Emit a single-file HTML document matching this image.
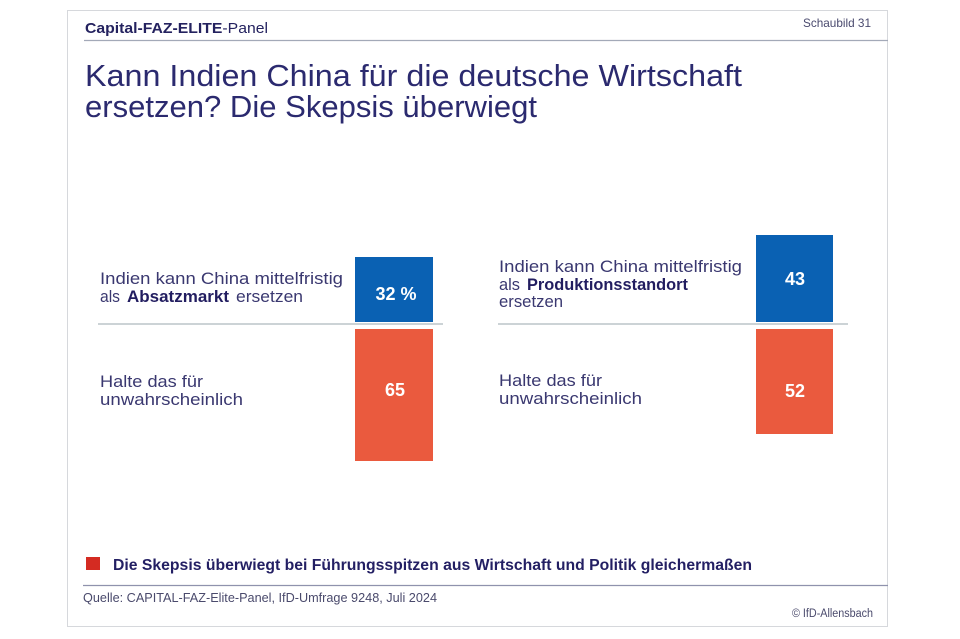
<!DOCTYPE html>
<html>
<head>
<meta charset="utf-8">
<style>
html,body{margin:0;padding:0;background:#fff;}
body{width:960px;height:639px;overflow:hidden;}
svg{display:block;font-family:"Liberation Sans",sans-serif;}
</style>
</head>
<body>
<svg width="960" height="639" viewBox="0 0 960 639" xmlns="http://www.w3.org/2000/svg">
  <rect x="0" y="0" width="960" height="639" fill="#ffffff"/>
  <!-- frame -->
  <rect x="67.5" y="10.5" width="820" height="616" fill="#ffffff" stroke="#d6d8dc" stroke-width="1"/>
  <!-- header -->
  <text x="85" y="33" font-size="15" fill="#24225f" textLength="183" lengthAdjust="spacingAndGlyphs"><tspan font-weight="bold">Capital-FAZ-ELITE</tspan>-Panel</text>
  <text x="803" y="27" font-size="12" fill="#4a4a6e" textLength="68" lengthAdjust="spacingAndGlyphs">Schaubild 31</text>
  <line x1="84" y1="40.5" x2="888" y2="40.5" stroke="#a3a9b8" stroke-width="1.2"/>
  <!-- title -->
  <text x="85" y="86" font-size="31" fill="#2b2a6f" textLength="657" lengthAdjust="spacingAndGlyphs">Kann Indien China für die deutsche Wirtschaft</text>
  <text x="85" y="117" font-size="31" fill="#2b2a6f" textLength="452" lengthAdjust="spacingAndGlyphs">ersetzen? Die Skepsis überwiegt</text>

  <!-- left group -->
  <text x="100" y="284" font-size="17" fill="#3a3870" textLength="243" lengthAdjust="spacingAndGlyphs">Indien kann China mittelfristig</text>
  <text x="100" y="302" font-size="17" fill="#3a3870" textLength="20" lengthAdjust="spacingAndGlyphs">als</text>
  <text x="127" y="302" font-size="17" font-weight="bold" fill="#221d60" textLength="102" lengthAdjust="spacingAndGlyphs">Absatzmarkt</text>
  <text x="236" y="302" font-size="17" fill="#3a3870" textLength="67" lengthAdjust="spacingAndGlyphs">ersetzen</text>
  <text x="100" y="387" font-size="17" fill="#3a3870" textLength="103" lengthAdjust="spacingAndGlyphs">Halte das für</text>
  <text x="100" y="405" font-size="17" fill="#3a3870" textLength="143" lengthAdjust="spacingAndGlyphs">unwahrscheinlich</text>
  <rect x="355" y="257" width="78" height="65" fill="#0a61b3"/>
  <line x1="98" y1="324" x2="443" y2="324" stroke="#ccd3d6" stroke-width="2"/>
  <rect x="355" y="329" width="78" height="132" fill="#ea5a3e"/>
  <text x="396" y="300" font-size="18" font-weight="bold" fill="#ffffff" text-anchor="middle">32 %</text>
  <text x="395" y="396" font-size="18" font-weight="bold" fill="#ffffff" text-anchor="middle">65</text>

  <!-- right group -->
  <text x="499" y="272" font-size="17" fill="#3a3870" textLength="243" lengthAdjust="spacingAndGlyphs">Indien kann China mittelfristig</text>
  <text x="499" y="290" font-size="17" fill="#3a3870" textLength="21" lengthAdjust="spacingAndGlyphs">als</text>
  <text x="527" y="290" font-size="17" font-weight="bold" fill="#221d60" textLength="161" lengthAdjust="spacingAndGlyphs">Produktionsstandort</text>
  <text x="499" y="307" font-size="17" fill="#3a3870" textLength="64" lengthAdjust="spacingAndGlyphs">ersetzen</text>
  <text x="499" y="386" font-size="17" fill="#3a3870" textLength="103" lengthAdjust="spacingAndGlyphs">Halte das für</text>
  <text x="499" y="404" font-size="17" fill="#3a3870" textLength="143" lengthAdjust="spacingAndGlyphs">unwahrscheinlich</text>
  <rect x="756" y="235" width="77" height="87" fill="#0a61b3"/>
  <line x1="498" y1="324" x2="848" y2="324" stroke="#ccd3d6" stroke-width="2"/>
  <rect x="756" y="329" width="77" height="105" fill="#ea5a3e"/>
  <text x="795" y="285" font-size="18" font-weight="bold" fill="#ffffff" text-anchor="middle">43</text>
  <text x="795" y="397" font-size="18" font-weight="bold" fill="#ffffff" text-anchor="middle">52</text>

  <!-- footer -->
  <rect x="86" y="557" width="14" height="13" fill="#d42b22"/>
  <text x="113" y="570" font-size="15.5" font-weight="bold" fill="#231f63" textLength="639" lengthAdjust="spacingAndGlyphs">Die Skepsis überwiegt bei Führungsspitzen aus Wirtschaft und Politik gleichermaßen</text>
  <line x1="83" y1="585.5" x2="888" y2="585.5" stroke="#8f92ad" stroke-width="1.2"/>
  <text x="83" y="602" font-size="13" fill="#4a4a6c" textLength="354" lengthAdjust="spacingAndGlyphs">Quelle: CAPITAL-FAZ-Elite-Panel, IfD-Umfrage 9248, Juli 2024</text>
  <text x="792" y="617" font-size="11.5" fill="#4a4a6c" textLength="81" lengthAdjust="spacingAndGlyphs">© IfD-Allensbach</text>
</svg>
</body>
</html>
